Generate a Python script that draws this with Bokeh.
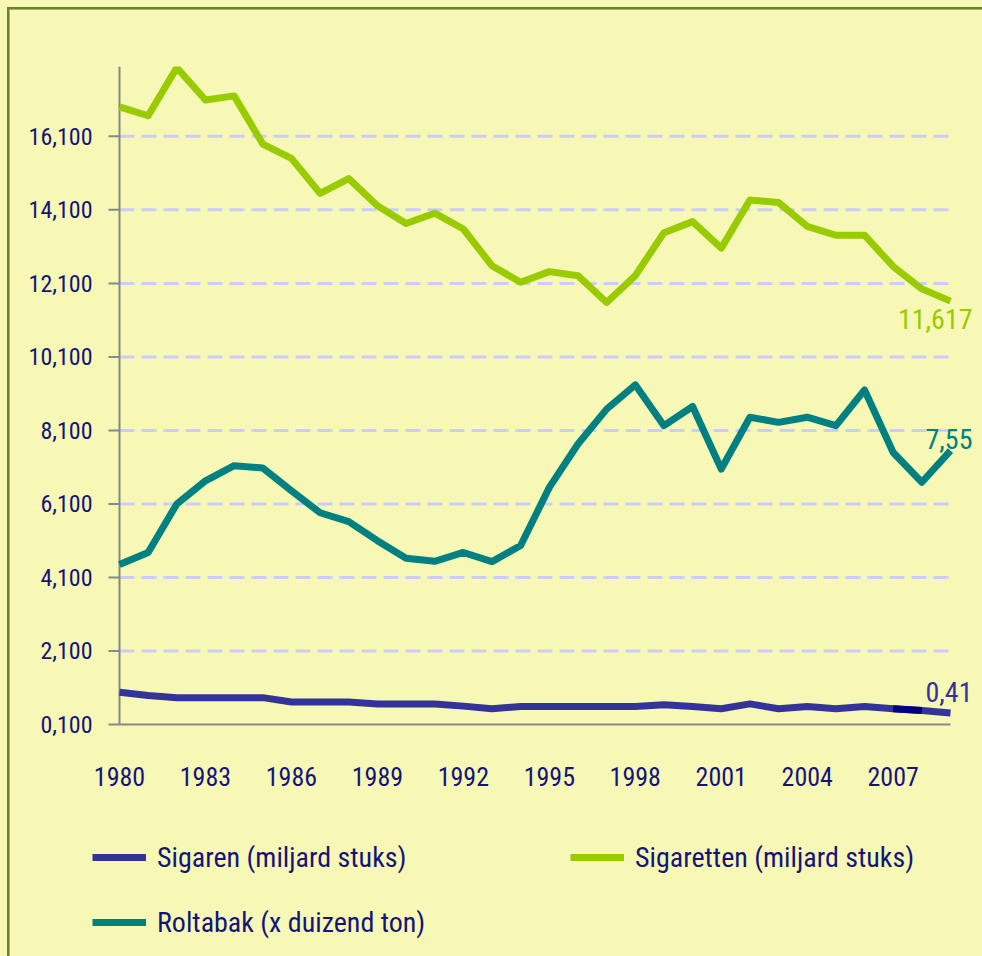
import math
from bokeh.plotting import figure
from bokeh.models import Range1d, FixedTicker, Legend, LegendItem, Label
from bokeh.core.properties import value
from bokeh.embed import file_html
from bokeh.resources import INLINE

# ---- data ----
years = list(range(1980, 2010))
sigaretten = [16.90, 16.66, 17.97, 17.09, 17.20, 15.89, 15.50, 14.55, 14.95, 14.21,
              13.73, 14.01, 13.58, 12.58, 12.13, 12.42, 12.31, 11.58, 12.31, 13.48,
              13.78, 13.06, 14.37, 14.30, 13.65, 13.41, 13.41, 12.56, 11.95, 11.617]
roltabak = [4.45, 4.78, 6.10, 6.73, 7.14, 7.08, 6.46, 5.86, 5.62, 5.10,
            4.62, 4.54, 4.78, 4.53, 4.97, 6.55, 7.73, 8.68, 9.34, 8.23,
            8.75, 7.05, 8.46, 8.32, 8.46, 8.23, 9.20, 7.50, 6.69, 7.55]
sigaren = [0.98, 0.89, 0.83, 0.83, 0.83, 0.83, 0.71, 0.71, 0.71, 0.66,
           0.66, 0.66, 0.60, 0.53, 0.59, 0.59, 0.59, 0.59, 0.59, 0.64,
           0.59, 0.53, 0.66, 0.53, 0.59, 0.53, 0.59, 0.53, 0.48, 0.41]

series_names = ["Sigaren (miljard stuks)", "Sigaretten (miljard stuks)", "Roltabak (x duizend ton)"]
end_labels = ["0,41", "11,617", "7,55"]

y_tick_values = [0.1, 2.1, 4.1, 6.1, 8.1, 10.1, 12.1, 14.1, 16.1]
y_tick_labels = ["0,100", "2,100", "4,100", "6,100", "8,100", "10,100", "12,100", "14,100", "16,100"]
x_tick_values = [1980, 1983, 1986, 1989, 1992, 1995, 1998, 2001, 2004, 2007]
Y_MIN, Y_MAX = 0.1, 18.0

# ---- layout (pixels) ----
W, H = 982, 956
FRAME_L, FRAME_T, FRAME_R, FRAME_B = 20, 66, 978, 956   # plotting frame (legend and labels live inside it)
AX_L, AX_R, AX_B = 119, 950, 724                         # where the axes are drawn
px_year = (AX_R - AX_L) / (years[-1] - years[0])
px_unit = (AX_B - FRAME_T) / (Y_MAX - Y_MIN)
x_lo = years[0] - (AX_L - FRAME_L) / px_year
x_hi = years[-1] + (FRAME_R - AX_R) / px_year
y_lo = Y_MIN - (FRAME_B - AX_B) / px_unit

# ---- styles ----
BG = "#F7F8B5"
NAVY_TXT = "#14147A"
C_SIGAREN = "#333399"
C_SIGAREN_HL = "#000080"
C_SIGARETTEN = "#99CC00"
C_ROLTABAK = "#008080"
C_GRID = "#CCCCFF"
C_AXIS = "#888888"
FONT = "Roboto Condensed"
LW = 7

p = figure(width=W, height=H, output_backend="svg", toolbar_location=None,
           x_range=Range1d(x_lo, x_hi), y_range=Range1d(y_lo, Y_MAX),
           x_axis_location="above",
           min_border_left=FRAME_L, min_border_top=FRAME_T,
           min_border_right=W - FRAME_R, min_border_bottom=H - FRAME_B)
p.border_fill_alpha = 0
p.background_fill_alpha = 0
p.outline_line_color = None
p.styles = {"background-color": BG,
            "box-shadow": ("inset 7px 7px 0 0 " + BG + ", inset 9px 9px 0 0 #6B7F2E, "
                           "inset 10px 10px 0 0 #A4B654")}

# grid (drawn only across the data span)
p.xgrid.visible = False
p.ygrid.visible = False
grid_vals = y_tick_values[1:]
p.segment(x0=[years[0]] * len(grid_vals), y0=grid_vals, x1=[years[-1]] * len(grid_vals), y1=grid_vals,
          line_color=C_GRID, line_width=3, line_dash="15 7")

# y axis at the first year: rule, outward ticks and right-aligned labels
p.yaxis.visible = False
n_y = len(y_tick_values)
p.segment(x0=[years[0]], y0=[Y_MIN], x1=[years[0]], y1=[Y_MAX], line_color=C_AXIS, line_width=2)
p.ray(x=[years[0]] * n_y, y=y_tick_values, length=11, length_units="screen", angle=math.pi,
      line_color=C_AXIS, line_width=2)
p.text(x=[years[0]] * n_y, y=y_tick_values, text=y_tick_labels,
       x_offset=-27, text_align="right", text_baseline="middle",
       text_font=value(FONT), text_font_size="24px", text_color=NAVY_TXT)

# x axis, pinned at the lowest value; labels pushed below the line
p.xaxis.fixed_location = Y_MIN
p.xaxis.bounds = (years[0], years[-1])
p.xaxis.ticker = FixedTicker(ticks=x_tick_values)
p.xaxis.axis_line_color = C_AXIS
p.xaxis.axis_line_width = 2
p.xaxis.major_tick_line_color = None
p.xaxis.minor_tick_line_color = None
p.xaxis.major_tick_out = 0
p.xaxis.major_tick_in = 0
p.xaxis.major_label_standoff = -61
p.xaxis.major_label_text_font_size = "26px"
p.xaxis.major_label_text_font = FONT
p.xaxis.major_label_text_color = NAVY_TXT

# lines
r_sigaren = p.line(years, sigaren, line_color=C_SIGAREN, line_width=LW, line_join="round")
p.line(years[27:29], sigaren[27:29], line_color=C_SIGAREN_HL, line_width=LW)
r_roltabak = p.line(years, roltabak, line_color=C_ROLTABAK, line_width=LW, line_join="round")
r_sigaretten = p.line(years, sigaretten, line_color=C_SIGARETTEN, line_width=LW, line_join="round")

# end labels
p.add_layout(Label(x=years[-1], y=sigaren[-1], text=end_labels[0], x_offset=22, y_offset=21,
                   text_align="right", text_baseline="middle", text_color=C_SIGAREN,
                   text_font=FONT, text_font_size="28px"))
p.add_layout(Label(x=years[-1], y=sigaretten[-1], text=end_labels[1], x_offset=22, y_offset=-18,
                   text_align="right", text_baseline="middle", text_color=C_SIGARETTEN,
                   text_font=FONT, text_font_size="28px"))
p.add_layout(Label(x=years[-1], y=roltabak[-1], text=end_labels[2], x_offset=22, y_offset=12,
                   text_align="right", text_baseline="middle", text_color=C_ROLTABAK,
                   text_font=FONT, text_font_size="28px"))

# legend (inside the frame, below the x axis labels)
common = dict(orientation="horizontal", border_line_color=None, background_fill_alpha=0,
              padding=0, margin=0, spacing=15, glyph_width=54, glyph_height=50,
              label_height=50, label_width=398, label_standoff=11,
              label_text_font=FONT, label_text_font_size="28px", label_text_color=NAVY_TXT)
leg1 = Legend(items=[LegendItem(label=series_names[0], renderers=[r_sigaren]),
                     LegendItem(label=series_names[1], renderers=[r_sigaretten])],
              location=(92 - FRAME_L, 74), **common)
leg2 = Legend(items=[LegendItem(label=series_names[2], renderers=[r_roltabak])],
              location=(92 - FRAME_L, 9), **common)
p.add_layout(leg1, "center")
p.add_layout(leg2, "center")

open("out.html", "w").write(file_html(p, INLINE))
